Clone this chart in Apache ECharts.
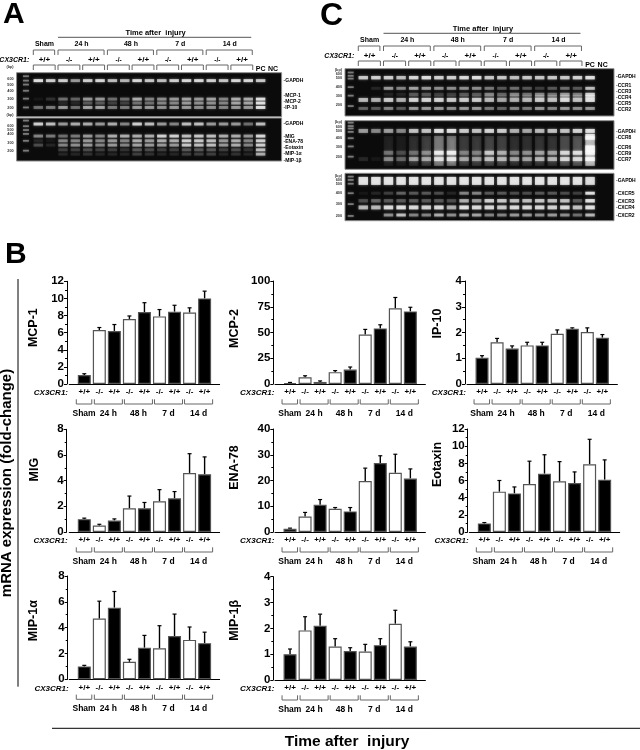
<!DOCTYPE html>
<html>
<head>
<meta charset="utf-8">
<title>Chemokine mRNA expression</title>
<style>
  html, body { margin: 0; padding: 0; background: #fff; }
  #chart { width: 640px; height: 750px; }
</style>
<script src="https://cdn.jsdelivr.net/npm/echarts@6/dist/echarts.min.js"></script>
</head>
<body>
<div id="chart"></div>
<script>
const FONT = '"Liberation Sans", Arial, sans-serif'

// bar charts
const genotypes = ['', '+/+', '-/-', '+/+', '-/-', '+/+', '-/-', '+/+', '-/-', '+/+', '']
const timeGroups = ['Sham', '24 h', '48 h', '7 d', '14 d']
const timeGroupFrom = [1, 2, 4, 6, 8]
const timeGroupTo = [1, 3, 5, 7, 9]

const mcp1 = [1.05, 6.3, 6.2, 7.6, 8.4, 7.9, 8.45, 8.35, 10]
const mcp1Err = [1.2, 6.6, 6.95, 7.95, 9.5, 8.7, 9.2, 8.9, 10.85]
const mcp2 = [1, 6.5, 2, 11.5, 14, 48, 54, 73.5, 70.5]
const mcp2Err = [1.5, 8, 3, 13, 16.5, 53, 57.5, 84, 74.5]
const ip10 = [1.02, 1.62, 1.38, 1.5, 1.5, 1.95, 2.15, 2.02, 1.8]
const ip10Err = [1.1, 1.77, 1.48, 1.62, 1.62, 2.1, 2.18, 2.18, 1.92]
const mig = [1, 0.5, 0.9, 1.85, 1.85, 2.4, 2.62, 4.6, 4.5]
const migErr = [1.08, 0.6, 1.02, 2.8, 2.3, 3.3, 3.15, 6.1, 5.85]
const ena78 = [1.3, 6, 10.6, 9, 8, 19.8, 26.8, 23, 20.8]
const ena78Err = [1.5, 7.6, 12.6, 9.5, 9.5, 24.8, 29.6, 30.2, 24.5]
const eotaxin = [1, 4.7, 4.5, 5.6, 6.8, 5.9, 5.7, 7.9, 6.1]
const eotaxinErr = [1.1, 6, 5.25, 8.25, 9, 8.2, 7, 10.8, 8.4]
const mip1a = [1, 4.7, 5.55, 1.35, 2.45, 2.4, 3.35, 3.05, 2.8]
const mip1aErr = [1.08, 6.05, 6.8, 1.55, 3.4, 4.15, 5.05, 4.05, 3.65]
const mip1b = [1, 1.92, 2.1, 1.3, 1.12, 1.1, 1.35, 2.18, 1.3]
const mip1bErr = [1.2, 2.45, 2.55, 1.6, 1.25, 1.38, 1.6, 2.7, 1.48]

// gels: band brightness per lane (18 samples, PC, NC)
const a1Rows = ['GAPDH', 'MCP-1', 'MCP-2', 'IP-10']
const a1Pos = [18, 60, 69, 79]
const a1Bands = [
  [1, .9, .9, .6, .9, .95, .8, .75, .95, .85, .8, .9, .95, .95, .9, .85, .95, .95, .85, 0],
  [.05, .15, .4, .35, .6, .6, .4, .4, .7, .5, .55, .6, .65, .6, .65, .5, .7, .7, 1, 0],
  [0, 0, .1, .1, .3, .3, .2, .2, .4, .4, .5, .5, .6, .55, .55, .5, .65, .65, 1, 0],
  [.4, .45, .6, .4, .65, .65, .45, .45, .6, .6, .55, .6, .6, .55, .55, .5, .6, .6, 1, 0],
]
const a2Rows = ['GAPDH', 'MIG', 'ENA-78', 'Eotaxin', 'MIP-1α', 'MIP-1β']
const a2Pos = [14, 42, 53, 63, 74, 84]
const a2Bands = [
  [.9, .8, .6, .7, .7, .6, .7, .5, .9, .8, .6, .5, .8, .8, .6, .6, .6, .4, .8, 0],
  [.5, .45, .4, .45, .6, .5, .7, .7, .7, .7, .9, .9, .8, .85, .8, .7, .7, .6, .95, 0],
  [.1, .05, .5, .5, .6, .5, .6, .5, .7, .6, .7, .7, .9, .85, .8, .6, .7, .5, .9, 0],
  [.25, .1, .5, .55, .6, .5, .6, .5, .65, .6, .6, .6, .85, .8, .8, .6, .7, .5, .9, 0],
  [0, 0, .2, .2, .25, .2, .2, .15, .3, .25, .2, .2, .3, .3, .3, .2, .25, .15, .8, 0],
  [0, 0, .1, .1, .15, .1, .1, .1, .2, .15, .1, .1, .2, .2, .2, .1, .15, .1, .7, 0],
]
const c1Rows = ['GAPDH', 'CCR1', 'CCR3', 'CCR4', 'CCR5', 'CCR2']
const c1Pos = [19, 41.5, 54, 59, 66, 84]
const c1Bands = [
  [.85, .9, .9, .8, .95, 1, .9, .9, .95, 1, .85, .85, .8, .85, .85, .85, .85, .9, 1, 0],
  [0, .1, .6, .5, .65, .6, .55, .55, .55, .55, .45, .3, .4, .3, .2, .3, .4, .3, .8, 0],
  [0, 0, .1, .1, .3, .3, .2, .2, .3, .3, .5, .35, .5, .4, .5, .4, .6, .45, .9, 0],
  [0, 0, 0, 0, .1, .1, .1, .1, .15, .15, .25, .2, .3, .3, .45, .4, .55, .4, .9, 0],
  [.75, .7, .85, .7, .9, .9, .9, .85, .85, .85, .75, .65, .7, .75, .85, .8, .95, .8, 1, 0],
  [.35, .3, .5, .3, .6, .6, .6, .55, .6, .6, .45, .35, .5, .45, .6, .5, .6, .55, .6, 0],
]
const c2Rows = ['smear', 'GAPDH', 'CCR8', 'CCR6', 'CCR9', 'CCR7']
const c2Pos = [62, 21, 33, 57, 66, 79]
const c2Bands = [
  [0, 0, .08, .06, .12, .18, .4, .42, .16, .16, .2, .18, .12, .12, .14, .14, .22, .26, .7, 0],
  [.6, .5, .6, .5, .8, .8, 1, 1, .85, .8, .9, .85, .7, .65, .75, .8, .8, .9, 1, 0],
  [0, 0, 0, 0, 0, 0, 0, 0, 0, 0, 0, 0, 0, 0, 0, 0, 0, 0, 1, 0],
  [0, 0, 0, 0, 0, 0, 0, 0, 0, 0, 0, 0, 0, 0, 0, 0, 0, 0, 1, 0],
  [0, 0, .35, .2, .3, .4, .95, 1, .35, .35, .75, .6, .4, .45, .55, .55, .85, .9, 1, 0],
  [.1, .05, .45, .3, .55, .55, .85, .9, .55, .5, .7, .65, .55, .55, .65, .65, .85, .85, 1, 0],
]
const c3Rows = ['GAPDH', 'CXCR5', 'CXCR3', 'CXCR4', 'CXCR2']
const c3Pos = [16, 42, 58, 72, 88]
const c3Bands = [
  [1, 1, 1, 1, 1, 1, 1, 1, 1, 1, 1, 1, 1, 1, 1, 1, 1, 1, .95, 0],
  [.05, .1, .2, .35, .3, .3, .25, .1, .5, .5, .3, .3, .25, .25, .3, .3, .25, .2, 1, 0],
  [.25, .35, .3, .3, .3, .3, .3, .25, .7, .6, .9, .85, .8, .8, .85, .8, .8, .3, 1, 0],
  [.75, .75, .95, 1, .95, .9, .95, .7, 1, .95, .95, .85, .95, .95, .95, .9, .95, .8, 1, 0],
  [0, 0, .55, .8, .5, .5, .7, .55, .7, .65, .5, .5, .6, .6, .55, .6, .55, .4, .75, 0],
]

const sizeMarkers = ['(bp)', '600', '500', '400', '300', '200']
const a1Ladder = [8, 18, 27, 41, 59, 79]
const a1LabelPos = [-14, 14, 27, 41, 60, 79]
const a2Ladder = [6, 19, 28, 37, 53, 76]
const a2LabelPos = [-8, 19, 28, 37, 57, 77]
const c1Ladder = [8, 15, 21, 39, 57, 79]
const c1LabelPos = [3, 11, 20, 39, 58, 77]
const c2Ladder = [4, 11, 16, 23, 36, 53, 74]
const c2LabelPos = [3, 12, 22, 36, 54, 74]
const c3Ladder = [7, 14, 22, 42, 65, 90]
const c3LabelPos = [5, 14, 23, 42, 65, 90]

const a1LabelY = [17, 53, 66, 80]
const a2LabelY = [12, 43, 56, 70, 84, 98]
const c1LabelY = [17, 36, 48, 61, 74, 87]
const c1Labels = ['GAPDH', 'CCR1', 'CCR3', 'CCR4', 'CCR5', 'CCR2']
const c2LabelY = [23, 35, 56, 68, 81]
const c2Labels = ['GAPDH', 'CCR8', 'CCR6', 'CCR9', 'CCR7']
const c3LabelY = [15.5, 42, 60, 72, 90]

const charts = [
  { name: 'MCP-1', values: mcp1, err: mcp1Err, max: 12, step: 2, left: 69.25, top: 281.3, bottom: 384, axisAt: 67, nameAt: 38, nameShift: 5 },
  { name: 'MCP-2', values: mcp2, err: mcp2Err, max: 100, step: 25, left: 275, top: 281, bottom: 384, axisAt: 273.3, nameAt: 239, nameShift: 4 },
  { name: 'IP-10', values: ip10, err: ip10Err, max: 4, step: 1, left: 467, top: 281, bottom: 384, axisAt: 465, nameAt: 442, nameShift: 9 },
  { name: 'MIG', values: mig, err: migErr, max: 8, step: 2, left: 69.25, top: 429.3, bottom: 532, axisAt: 66.7, nameAt: 38, nameShift: 11 },
  { name: 'ENA-78', values: ena78, err: ena78Err, max: 40, step: 10, left: 275, top: 429, bottom: 532, axisAt: 273.3, nameAt: 239, nameShift: 13 },
  { name: 'Eotaxin', values: eotaxin, err: eotaxinErr, max: 12, step: 2, left: 469.3, top: 429, bottom: 532, axisAt: 467.7, nameAt: 442, nameShift: 16 },
  { name: 'MIP-1α', values: mip1a, err: mip1aErr, max: 8, step: 2, left: 69.25, top: 576, bottom: 679.3, axisAt: 67.7, nameAt: 38, nameShift: 7 },
  { name: 'MIP-1β', values: mip1b, err: mip1bErr, max: 4, step: 1, left: 275, top: 576.7, bottom: 680, axisAt: 273.3, nameAt: 239, nameShift: 8 },
]

const gels = [
  { rows: a1Rows, pos: a1Pos, bands: a1Bands, heights: [3, 3, 3, 3], ladder: a1Ladder, markerPos: a1LabelPos, labels: a1Rows, labelY: a1LabelY,
    left: 16.6, top: 72.7, width: 265, height: 44, laneMin: -0.757, laneMax: 20.7, header: true },
  { rows: a2Rows, pos: a2Pos, bands: a2Bands, heights: [3, 3, 3, 3, 3, 3], ladder: a2Ladder, markerPos: a2LabelPos, labels: a2Rows, labelY: a2LabelY,
    left: 16.6, top: 118, width: 265, height: 43, laneMin: -0.757, laneMax: 20.7 },
  { rows: c1Rows, pos: c1Pos, bands: c1Bands, heights: [3.5, 3, 3, 3, 4, 3], ladder: c1Ladder, markerPos: c1LabelPos, labels: c1Labels, labelY: c1LabelY,
    left: 345, top: 68.7, width: 269, height: 47.3, laneMin: -0.452, laneMax: 20.9, header: true },
  { rows: c2Rows, pos: c2Pos, bands: c2Bands, heights: [30, 4, 6, 6, 4, 4], ladder: c2Ladder, markerPos: c2LabelPos, labels: c2Labels, labelY: c2LabelY,
    left: 345, top: 120.7, width: 269, height: 48.6, laneMin: -0.452, laneMax: 20.9 },
  { rows: c3Rows, pos: c3Pos, bands: c3Bands, heights: [8, 3, 3.5, 4, 3], ladder: c3Ladder, markerPos: c3LabelPos, labels: c3Rows, labelY: c3LabelY,
    left: 345, top: 173.3, width: 269, height: 47.4, laneMin: -0.452, laneMax: 20.9 },
]

const grids = []
const xAxes = []
const yAxes = []
const series = []

function text(str, x, y, font, align, color) {
  return {
    type: 'text',
    style: { text: str, x, y, font: font + ' ' + FONT, align: align || 'center', verticalAlign: 'middle', fill: color || '#000' },
  }
}

function line(x1, y1, x2, y2, color, width) {
  return { type: 'line', shape: { x1, y1, x2, y2 }, style: { stroke: color || '#666', lineWidth: width || 1 } }
}

// bracket with tips at y2 and spine at y1
function bracket(x1, x2, y1, y2) {
  return {
    type: 'polyline',
    shape: { points: [[x1, y2], [x1, y1], [x2, y1], [x2, y2]] },
    style: { stroke: '#666', lineWidth: 1, fill: 'none' },
  }
}

// gel lane headers, drawn from lane positions of the first gel in a panel
function gelHeader(api, top) {
  const lane = (n) => api.coord([n, 0])[0]
  const out = []
  const f = 'bold 7px'
  out.push(text('Time after  injury', (lane(3) + lane(18)) / 2, top - 39.7, 'bold 7.5px'))
  out.push(line(lane(3) - 5, top - 35.4, lane(18) + 3, top - 35.4, '#555'))
  const spans = [[1, 2], [3, 6], [7, 10], [11, 14], [15, 18]]
  spans.forEach((s, i) => {
    out.push(text(timeGroups[i], (lane(s[0]) + lane(s[1])) / 2, top - 28.7, f))
    out.push(bracket(lane(s[0]) - 5, lane(s[1]) + 4, top - 22.7, top - 17.7))
  })
  out.push(text('CX3CR1:', lane(1) - 9, top - 12.7, 'italic bold 7px', 'right'))
  for (let i = 0; i < 9; i++) {
    const a = lane(i * 2 + 1)
    const b = lane(i * 2 + 2)
    out.push(text(genotypes[i + 1], (a + b) / 2, top - 12.7, i % 2 ? 'bold 6.5px' : 'bold 8px'))
    out.push(bracket(a - 5, b + 4.5, top - 7.7, top - 2.7))
  }
  out.push(text('PC', lane(19), top - 4, f))
  out.push(text('NC', lane(20), top - 4, f))
  return out
}

gels.forEach((gel) => {
  const idx = grids.length
  grids.push({
    left: gel.left, top: gel.top, width: gel.width, height: gel.height,
    show: true, backgroundColor: '#0b0b0b', borderColor: '#8a8a8a', borderWidth: 1,
  })
  xAxes.push({ gridIndex: idx, type: 'value', min: gel.laneMin, max: gel.laneMax, show: false })
  yAxes.push({ gridIndex: idx, type: 'value', min: 0, max: 100, inverse: true, show: false })

  const points = []
  gel.ladder.forEach((p) => points.push({ value: [0, p], b: 0.5, w: 6, h: 1.8 }))
  gel.bands.forEach((row, r) => {
    row.forEach((b, l) => {
      if (b > 0) points.push({ value: [l + 1, gel.pos[r], b], b, w: 9.5, h: gel.heights[r] })
    })
  })
  series.push({
    type: 'scatter', xAxisIndex: idx, yAxisIndex: idx, silent: true,
    symbol: 'rect',
    symbolSize: (v, p) => [points[p.dataIndex].w, points[p.dataIndex].h],
    data: points.map((p) => p.value),
    itemStyle: {
      color: (p) => 'rgba(255,255,255,' + points[p.dataIndex].b + ')',
      shadowBlur: 3, shadowColor: 'rgba(255,255,255,0.6)',
    },
  })

  series.push({
    type: 'custom', xAxisIndex: idx, yAxisIndex: idx, silent: true, clip: false,
    data: [[0, 0]],
    renderItem: (params, api) => {
      const children = []
      gel.labels.forEach((name, i) => {
        const y = api.coord([0, gel.labelY[i]])[1]
        children.push(text('-' + name, gel.left + gel.width + 2, y, 'bold 5px', 'left'))
      })
      sizeMarkers.forEach((m, i) => {
        const y = api.coord([0, gel.markerPos[i]])[1]
        children.push(text(m, gel.left - 3, y, 'bold 3.8px', 'right', '#333'))
      })
      if (gel.header) children.push(...gelHeader(api, gel.top))
      return { type: 'group', children }
    },
  })
})

charts.forEach((c) => {
  const idx = grids.length
  const values = [null, ...c.values, null]
  grids.push({ left: c.left, top: c.top, width: 150.4, height: c.bottom - c.top })
  xAxes.push({
    gridIndex: idx, type: 'category', data: genotypes, boundaryGap: false,
    axisLine: { lineStyle: { color: '#000', width: 1 } },
    axisTick: { show: false },
    axisLabel: { interval: 0, margin: 4, fontFamily: FONT, fontWeight: 'bold', fontSize: 8, color: '#000' },
  })
  yAxes.push({
    gridIndex: idx, type: 'value', min: 0, max: c.max, interval: c.step,
    offset: c.left - c.axisAt,
    name: c.name, nameLocation: 'middle', nameRotate: 90,
    nameGap: c.axisAt - c.nameAt - (c.left - c.axisAt),
    nameTextStyle: { fontFamily: FONT, fontWeight: 'bold', fontSize: 12.5, color: '#000', padding: [0, 0, 0, c.nameShift * 2] },
    axisLine: { show: true, lineStyle: { color: '#000', width: 1 } },
    axisTick: { show: true, length: 3, lineStyle: { color: '#000' } },
    minorTick: { show: true, splitNumber: 2, length: 2, lineStyle: { color: '#000' } },
    splitLine: { show: false },
    axisLabel: { margin: 3, fontFamily: FONT, fontWeight: 'bold', fontSize: 11.5, color: '#000' },
  })
  series.push({
    type: 'bar', xAxisIndex: idx, yAxisIndex: idx, barWidth: 13, silent: true,
    data: values,
    itemStyle: {
      color: (p) => (genotypes[p.dataIndex] === '-/-' ? '#fff' : '#000'),
      borderColor: '#555', borderWidth: 1.2,
    },
  })
  series.push({
    type: 'custom', xAxisIndex: idx, yAxisIndex: idx, silent: true, clip: false,
    data: c.err.map((top, i) => [i + 1, c.values[i], top]),
    encode: { x: 0, y: 2 },
    renderItem: (params, api) => {
      const a = api.coord([api.value(0), api.value(1)])
      const b = api.coord([api.value(0), api.value(2)])
      return {
        type: 'group',
        children: [line(a[0], a[1], b[0], b[1], '#000', 1.4), line(b[0] - 2, b[1], b[0] + 2, b[1], '#000', 1.2)],
      }
    },
  })
  series.push({
    type: 'custom', xAxisIndex: idx, yAxisIndex: idx, silent: true, clip: false,
    data: timeGroups.map((g, i) => [timeGroupFrom[i], 0]),
    encode: { x: 0, y: 1 },
    renderItem: (params, api) => {
      const i = params.dataIndex
      const p = api.coord([timeGroupFrom[i], 0])
      const x1 = p[0] - (i === 0 ? 8 : 5)
      const x2 = api.coord([timeGroupTo[i], 0])[0] + (i === 0 ? 7.5 : 8)
      const children = [
        bracket(x1, x2, p[1] + 20, p[1] + 15.3),
        text(timeGroups[i], (x1 + x2) / 2, p[1] + 29.5, 'bold 8.5px'),
      ]
      if (i === 0) children.push(text('CX3CR1:', c.axisAt + 1, p[1] + 9, 'italic bold 8px', 'right'))
      return { type: 'group', children }
    },
  })
})

const big = (str, x, y, size) => ({
  type: 'text', x, y,
  style: { text: str, font: 'bold ' + size + 'px ' + FONT, fill: '#000', align: 'left', verticalAlign: 'top' },
})

const chart = echarts.init(document.getElementById('chart'), null, { renderer: 'canvas' })
chart.setOption({
  animation: false,
  backgroundColor: '#fff',
  grid: grids,
  xAxis: xAxes,
  yAxis: yAxes,
  series,
  graphic: [
    big('A', 3, 0, 30),
    big('B', 5, 240, 30),
    big('C', 320, 0, 32),
    {
      type: 'text', x: 7, y: 483, rotation: Math.PI / 2,
      style: { text: 'mRNA expression (fold-change)', font: 'bold 15px ' + FONT, fill: '#000', align: 'center', verticalAlign: 'middle' },
    },
    { type: 'line', shape: { x1: 18, y1: 279, x2: 18, y2: 686.7 }, style: { stroke: '#000', lineWidth: 1 } },
    { type: 'line', shape: { x1: 52, y1: 728.3, x2: 640, y2: 728.3 }, style: { stroke: '#000', lineWidth: 1 } },
    {
      type: 'text', x: 347, y: 741.5,
      style: { text: 'Time after  injury', font: 'bold 15.5px ' + FONT, fill: '#000', align: 'center', verticalAlign: 'middle' },
    },
  ],
})
</script>
</body>
</html>
